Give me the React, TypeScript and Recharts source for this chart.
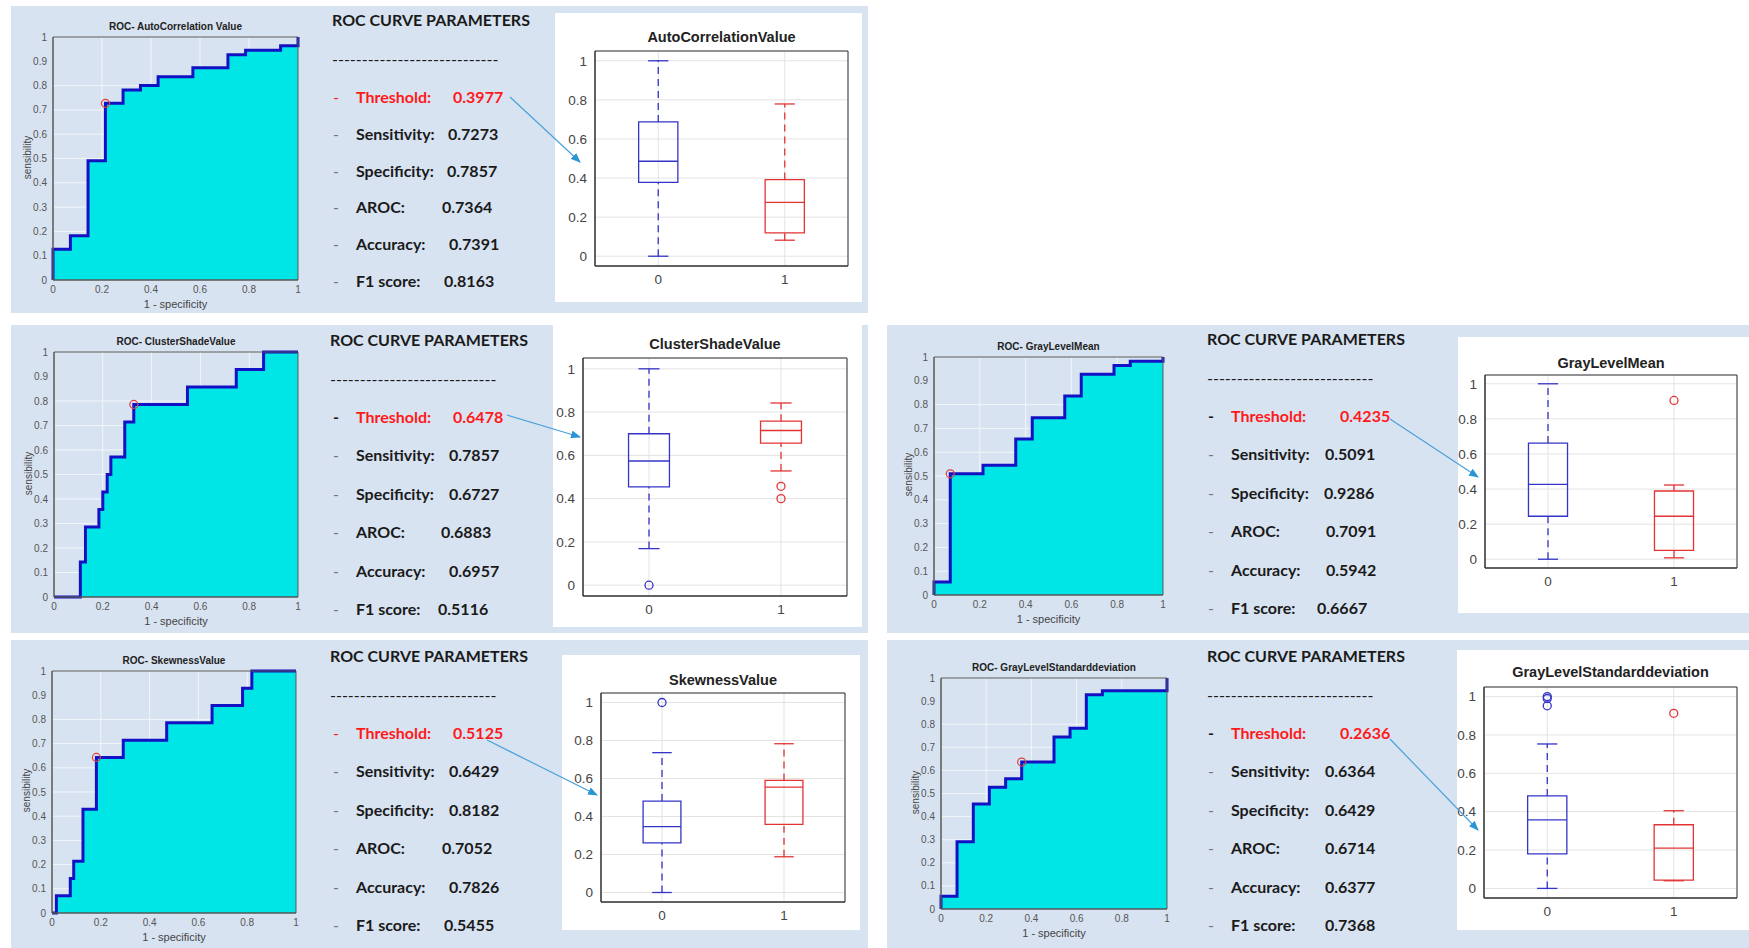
import React from 'react'
import {
  AreaChart,
  Area,
  ComposedChart,
  Scatter,
  XAxis,
  YAxis,
  CartesianGrid,
  ReferenceArea,
  ReferenceDot,
  ReferenceLine,
} from 'recharts'

const paramLabels = ['Threshold:', 'Sensitivity:', 'Specificity:', 'AROC:', 'Accuracy:', 'F1 score:']
const classLabels = ['0', '1']

// ROC step corners: 1 - specificity / sensitivity
const acFpr = [0, 0, 0.071, 0.143, 0.214, 0.286, 0.357, 0.429, 0.571, 0.714, 0.786, 0.929, 1]
const acTpr = [0, 0.127, 0.182, 0.491, 0.727, 0.782, 0.8, 0.836, 0.873, 0.927, 0.945, 0.964, 1]
const acOpt = [0.214, 0.727]
// boxplot stats: lower whisker, q1, median, q3, upper whisker
const acBox0 = [0, 0.378, 0.486, 0.687, 1]
const acBox1 = [0.082, 0.119, 0.276, 0.392, 0.779]
const acOut0: number[] = []
const acOut1: number[] = []
const acParams = ['0.3977', '0.7273', '0.7857', '0.7364', '0.7391', '0.8163']

const csFpr = [0, 0.108, 0.129, 0.184, 0.2, 0.218, 0.233, 0.29, 0.327, 0.547, 0.747, 0.859, 1]
const csTpr = [0, 0.143, 0.286, 0.357, 0.429, 0.5, 0.571, 0.714, 0.786, 0.857, 0.929, 1, 1]
const csOpt = [0.327, 0.786]
const csBox0 = [0.169, 0.454, 0.574, 0.7, 1]
const csBox1 = [0.528, 0.657, 0.715, 0.758, 0.842]
const csOut0 = [0]
const csOut1 = [0.457, 0.4]
const csParams = ['0.6478', '0.7857', '0.6727', '0.6883', '0.6957', '0.5116']

const glmFpr = [0, 0, 0.071, 0.214, 0.357, 0.429, 0.571, 0.643, 0.786, 0.857, 1]
const glmTpr = [0, 0.055, 0.509, 0.545, 0.655, 0.745, 0.836, 0.927, 0.964, 0.982, 1]
const glmOpt = [0.071, 0.509]
const glmBox0 = [0, 0.245, 0.427, 0.662, 1]
const glmBox1 = [0.008, 0.051, 0.245, 0.389, 0.423]
const glmOut0: number[] = []
const glmOut1 = [0.905]
const glmParams = ['0.4235', '0.5091', '0.9286', '0.7091', '0.5942', '0.6667']

const skFpr = [0, 0.018, 0.075, 0.089, 0.127, 0.182, 0.292, 0.47, 0.656, 0.781, 0.819, 1]
const skTpr = [0, 0.071, 0.143, 0.214, 0.429, 0.643, 0.714, 0.786, 0.857, 0.929, 1, 1]
const skOpt = [0.182, 0.643]
const skBox0 = [0, 0.261, 0.347, 0.481, 0.736]
const skBox1 = [0.188, 0.359, 0.555, 0.59, 0.783]
const skOut0 = [1]
const skOut1: number[] = []
const skParams = ['0.5125', '0.6429', '0.8182', '0.7052', '0.7826', '0.5455']

const gsFpr = [0, 0, 0.071, 0.143, 0.214, 0.286, 0.357, 0.5, 0.571, 0.643, 0.714, 1]
const gsTpr = [0, 0.055, 0.291, 0.455, 0.527, 0.564, 0.636, 0.745, 0.782, 0.927, 0.945, 1]
const gsOpt = [0.357, 0.636]
const gsBox0 = [0, 0.18, 0.357, 0.482, 0.753]
const gsBox1 = [0.04, 0.043, 0.21, 0.332, 0.405]
const gsOut0 = [1, 0.99, 0.952]
const gsOut1 = [0.913]
const gsParams = ['0.2636', '0.6364', '0.6429', '0.6714', '0.6377', '0.7368']

const PANEL_BG = '#d8e3f1'
const BLUE = '#3434c8'
const RED = '#e23434'
const MATLAB_FONT = '"Liberation Sans", Arial, sans-serif'
const TEXT_FONT = 'Lato, "Open Sans", sans-serif'
const BOX_HALF = 0.155
const CAP_HALF = 0.08

const fmt = (v: number) => String(Math.round(v * 10) / 10)

type Rect = { x: number; y: number; w: number; h: number }

function Roc({ plot, title, fpr, tpr, opt }: { plot: Rect; title: string; fpr: number[]; tpr: number[]; opt: number[] }) {
  const data = fpr.map((f, i) => ({ fpr: f, tpr: tpr[i] }))
  const yw = 24
  const xh = 18
  const mt = 6
  const mr = 6
  return (
    <>
      <div
        style={{
          position: 'absolute',
          left: plot.x,
          width: plot.w,
          top: plot.y - 16,
          textAlign: 'center',
          font: `bold 10px ${MATLAB_FONT}`,
          color: '#222',
          whiteSpace: 'nowrap',
        }}
      >
        {title}
      </div>
      <div style={{ position: 'absolute', left: plot.x - yw, top: plot.y - mt }}>
        <AreaChart
          width={plot.w + yw + mr}
          height={plot.h + xh + mt}
          data={data}
          margin={{ top: mt, right: mr, bottom: 0, left: 0 }}
        >
          <CartesianGrid stroke="#f2f6fb" />
          <XAxis
            type="number"
            dataKey="fpr"
            domain={[0, 1]}
            ticks={[0, 0.2, 0.4, 0.6, 0.8, 1]}
            height={xh}
            tickLine={false}
            tickSize={4}
            axisLine={{ stroke: '#555' }}
            tick={{ fontSize: 10, fill: '#555', fontFamily: MATLAB_FONT }}
            tickFormatter={fmt}
          />
          <YAxis
            type="number"
            domain={[0, 1]}
            ticks={[0, 0.1, 0.2, 0.3, 0.4, 0.5, 0.6, 0.7, 0.8, 0.9, 1]}
            width={yw}
            tickLine={false}
            tickSize={4}
            axisLine={{ stroke: '#555' }}
            tick={{ fontSize: 10, fill: '#555', fontFamily: MATLAB_FONT }}
            tickFormatter={fmt}
          />
          <Area
            type="stepAfter"
            dataKey="tpr"
            stroke="#1212c4"
            strokeWidth={3}
            fill="#00e5e5"
            fillOpacity={1}
            isAnimationActive={false}
          />
          <ReferenceArea x1={0} x2={1} y1={0} y2={1} fill="none" stroke="#555" strokeWidth={1} />
          <ReferenceDot x={opt[0]} y={opt[1]} r={4} fill="none" stroke="#e04040" strokeWidth={1.2} />
        </AreaChart>
      </div>
      <div
        style={{
          position: 'absolute',
          left: plot.x,
          width: plot.w,
          top: plot.y + plot.h + 18,
          textAlign: 'center',
          font: `11px ${MATLAB_FONT}`,
          color: '#444',
        }}
      >
        1 - specificity
      </div>
      <div
        style={{
          position: 'absolute',
          left: plot.x - 26 - 40,
          width: 80,
          top: plot.y + plot.h / 2 - 7,
          textAlign: 'center',
          font: `10px ${MATLAB_FONT}`,
          color: '#444',
          transform: 'rotate(-90deg)',
        }}
      >
        sensibility
      </div>
    </>
  )
}

function boxParts(pos: number, s: number[], out: number[], color: string, key: string) {
  return [
    <ReferenceLine key={key + 'wu'} segment={[{ x: pos, y: s[3] }, { x: pos, y: s[4] }]} stroke={color} strokeDasharray="7 5" strokeWidth={1.3} />,
    <ReferenceLine key={key + 'wl'} segment={[{ x: pos, y: s[0] }, { x: pos, y: s[1] }]} stroke={color} strokeDasharray="7 5" strokeWidth={1.3} />,
    <ReferenceLine key={key + 'cu'} segment={[{ x: pos - CAP_HALF, y: s[4] }, { x: pos + CAP_HALF, y: s[4] }]} stroke={color} strokeWidth={1.3} />,
    <ReferenceLine key={key + 'cl'} segment={[{ x: pos - CAP_HALF, y: s[0] }, { x: pos + CAP_HALF, y: s[0] }]} stroke={color} strokeWidth={1.3} />,
    <ReferenceArea key={key + 'b'} x1={pos - BOX_HALF} x2={pos + BOX_HALF} y1={s[1]} y2={s[3]} fill="none" fillOpacity={0} stroke={color} strokeWidth={1.3} />,
    ...out.map((o, i) => (
      <ReferenceDot key={key + 'o' + i} x={pos} y={o} r={4} fill="none" stroke={color} strokeWidth={1.3} />
    )),
  ]
}

function Box({
  plot,
  bg,
  title,
  titleY,
  box0,
  box1,
  out0,
  out1,
}: {
  plot: Rect
  bg: Rect
  title: string
  titleY: number
  box0: number[]
  box1: number[]
  out0: number[]
  out1: number[]
}) {
  const yw = 40
  const xh = 30
  const mt = 4
  const mr = 4
  const data = [
    { pos: 1, med: box0[2], color: BLUE },
    { pos: 2, med: box1[2], color: RED },
  ]
  // median bar half-width in pixels, from the x scale (2 units over the plot width)
  const halfPx = (BOX_HALF * plot.w) / 2
  const medianShape = (p: any) => (
    <line
      x1={p.cx - halfPx}
      x2={p.cx + halfPx}
      y1={p.cy}
      y2={p.cy}
      stroke={p.payload.color}
      strokeWidth={1.3}
    />
  )
  return (
    <>
      <div style={{ position: 'absolute', left: bg.x, top: bg.y, width: bg.w, height: bg.h, background: '#fff' }} />
      <div
        style={{
          position: 'absolute',
          left: plot.x,
          width: plot.w,
          top: titleY - 9,
          textAlign: 'center',
          font: `bold 14.5px ${MATLAB_FONT}`,
          color: '#222',
          whiteSpace: 'nowrap',
        }}
      >
        {title}
      </div>
      <div style={{ position: 'absolute', left: plot.x - yw, top: plot.y - mt }}>
        <ComposedChart
          width={plot.w + yw + mr}
          height={plot.h + xh + mt}
          data={data}
          margin={{ top: mt, right: mr, bottom: 0, left: 0 }}
        >
          <CartesianGrid stroke="#e3e3e3" />
          <XAxis
            type="number"
            dataKey="pos"
            domain={[0.5, 2.5]}
            ticks={[1, 2]}
            height={xh}
            tickLine={false}
            axisLine={{ stroke: '#333' }}
            tick={{ fontSize: 13.5, fill: '#444', fontFamily: MATLAB_FONT }}
            tickFormatter={(v: number) => classLabels[v - 1]}
          />
          <YAxis
            type="number"
            domain={[-0.05, 1.05]}
            allowDataOverflow
            ticks={[0, 0.2, 0.4, 0.6, 0.8, 1]}
            width={yw}
            tickLine={false}
            axisLine={{ stroke: '#333' }}
            tick={{ fontSize: 13.5, fill: '#444', fontFamily: MATLAB_FONT }}
            tickFormatter={fmt}
          />
          <ReferenceArea x1={0.5} x2={2.5} y1={-0.05} y2={1.05} fill="none" fillOpacity={0} stroke="#333" strokeWidth={1} />
          {boxParts(1, box0, out0, BLUE, 'a')}
          {boxParts(2, box1, out1, RED, 'b')}
          <Scatter dataKey="med" shape={medianShape} isAnimationActive={false} />
        </ComposedChart>
      </div>
    </>
  )
}

function Params({
  tx,
  lx,
  ty,
  gap,
  offsets,
  values,
  redBullet,
}: {
  tx: number
  lx: number
  ty: number
  gap: number
  offsets: number[]
  values: string[]
  redBullet: boolean
}) {
  const base: React.CSSProperties = {
    position: 'absolute',
    whiteSpace: 'nowrap',
    lineHeight: '20px',
    font: `bold 16px ${TEXT_FONT}`,
    color: '#1a1a1a',
  }
  return (
    <>
      <div style={{ ...base, left: tx, top: ty - 10 }}>ROC CURVE PARAMETERS</div>
      <div style={{ ...base, left: tx, top: ty + 39 - 10, fontWeight: 400 }}>----------------------------</div>
      {paramLabels.map((lab, i) => {
        const yc = ty + 77 + i * gap
        const isTh = i === 0
        const col = isTh ? '#ff1a1a' : '#1a1a1a'
        return (
          <React.Fragment key={lab}>
            <div
              style={{
                ...base,
                left: lx - 23,
                top: yc - 10,
                fontWeight: isTh && !redBullet ? 700 : 400,
                color: isTh ? (redBullet ? '#ff1a1a' : '#1a1a1a') : '#777',
              }}
            >
              -
            </div>
            <div style={{ ...base, left: lx, top: yc - 10, color: col }}>{lab}</div>
            <div style={{ ...base, left: lx + offsets[i], top: yc - 10, color: col }}>{values[i]}</div>
          </React.Fragment>
        )
      })}
    </>
  )
}

const arrows = [
  [510, 97, 580, 162],
  [507, 415, 580, 437],
  [487, 740, 597, 795],
  [1390, 419, 1478, 477],
  [1390, 739, 1478, 830],
]

export default function App() {
  return (
    <div style={{ position: 'relative', width: 1749, height: 948, background: '#fff', overflow: 'hidden' }}>
      <style>{'body{margin:0}'}</style>
      {/* panel backgrounds */}
      <div style={{ position: 'absolute', left: 11, top: 6, width: 857, height: 307, background: PANEL_BG }} />
      <div style={{ position: 'absolute', left: 11, top: 325, width: 857, height: 308, background: PANEL_BG }} />
      <div style={{ position: 'absolute', left: 11, top: 640, width: 857, height: 308, background: PANEL_BG }} />
      <div style={{ position: 'absolute', left: 887, top: 325, width: 862, height: 308, background: PANEL_BG }} />
      <div style={{ position: 'absolute', left: 887, top: 640, width: 862, height: 308, background: PANEL_BG }} />

      <Roc plot={{ x: 53, y: 37, w: 245, h: 243 }} title="ROC- AutoCorrelation Value" fpr={acFpr} tpr={acTpr} opt={acOpt} />
      <Roc plot={{ x: 54, y: 352, w: 244, h: 245 }} title="ROC- ClusterShadeValue" fpr={csFpr} tpr={csTpr} opt={csOpt} />
      <Roc plot={{ x: 52, y: 671, w: 244, h: 242 }} title="ROC- SkewnessValue" fpr={skFpr} tpr={skTpr} opt={skOpt} />
      <Roc plot={{ x: 934, y: 357, w: 229, h: 238 }} title="ROC- GrayLevelMean" fpr={glmFpr} tpr={glmTpr} opt={glmOpt} />
      <Roc plot={{ x: 941, y: 678, w: 226, h: 231 }} title="ROC- GrayLevelStandarddeviation" fpr={gsFpr} tpr={gsTpr} opt={gsOpt} />

      <Params tx={332} lx={356} ty={20} gap={36.8} offsets={[97, 92, 91, 86, 93, 88]} values={acParams} redBullet />
      <Params tx={330} lx={356} ty={340} gap={38.4} offsets={[97, 93, 93, 85, 93, 82]} values={csParams} redBullet={false} />
      <Params tx={330} lx={356} ty={656} gap={38.4} offsets={[97, 93, 93, 86, 93, 88]} values={skParams} redBullet />
      <Params tx={1207} lx={1231} ty={339} gap={38.4} offsets={[109, 94, 93, 95, 95, 86]} values={glmParams} redBullet={false} />
      <Params tx={1207} lx={1231} ty={656} gap={38.4} offsets={[109, 94, 94, 94, 94, 94]} values={gsParams} redBullet={false} />

      <Box
        plot={{ x: 595, y: 51, w: 253, h: 215 }}
        bg={{ x: 555, y: 13, w: 307, h: 289 }}
        title="AutoCorrelationValue"
        titleY={38}
        box0={acBox0}
        box1={acBox1}
        out0={acOut0}
        out1={acOut1}
      />
      <Box
        plot={{ x: 583, y: 358, w: 264, h: 238 }}
        bg={{ x: 553, y: 325, w: 309, h: 302 }}
        title="ClusterShadeValue"
        titleY={345}
        box0={csBox0}
        box1={csBox1}
        out0={csOut0}
        out1={csOut1}
      />
      <Box
        plot={{ x: 601, y: 693, w: 244, h: 209 }}
        bg={{ x: 562, y: 655, w: 298, h: 275 }}
        title="SkewnessValue"
        titleY={681}
        box0={skBox0}
        box1={skBox1}
        out0={skOut0}
        out1={skOut1}
      />
      <Box
        plot={{ x: 1485, y: 375, w: 252, h: 193 }}
        bg={{ x: 1458, y: 337, w: 291, h: 276 }}
        title="GrayLevelMean"
        titleY={364}
        box0={glmBox0}
        box1={glmBox1}
        out0={glmOut0}
        out1={glmOut1}
      />
      <Box
        plot={{ x: 1484, y: 687, w: 253, h: 211 }}
        bg={{ x: 1457, y: 650, w: 292, h: 280 }}
        title="GrayLevelStandarddeviation"
        titleY={673}
        box0={gsBox0}
        box1={gsBox1}
        out0={gsOut0}
        out1={gsOut1}
      />

      <svg
        width={1749}
        height={948}
        style={{ position: 'absolute', left: 0, top: 0, pointerEvents: 'none' }}
      >
        <defs>
          <marker id="arrowHead" markerWidth="10" markerHeight="8" refX="9" refY="4" orient="auto" markerUnits="userSpaceOnUse">
            <path d="M0,0 L10,4 L0,8 Z" fill="#2b95d6" />
          </marker>
        </defs>
        {arrows.map((a, i) => (
          <line key={i} x1={a[0]} y1={a[1]} x2={a[2]} y2={a[3]} stroke="#4aa2dc" strokeWidth={1.2} markerEnd="url(#arrowHead)" />
        ))}
      </svg>
    </div>
  )
}
